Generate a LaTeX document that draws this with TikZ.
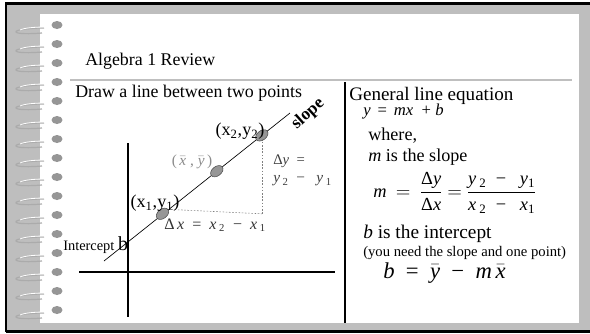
\documentclass[tikz,border=0pt]{standalone}
\usepackage{fontspec}
\setmainfont{Liberation Serif}
\usepackage{amsmath}
\usetikzlibrary{shapes.geometric}
\definecolor{pagegray}{RGB}{190,190,190}
\definecolor{ringgray}{RGB}{150,150,150}
\definecolor{notegray}{RGB}{110,110,110}
\newcommand{\ivar}[1]{\textit{#1}}
\newcommand{\barvar}[1]{$\bar{\hbox{\itshape #1}}$}
\tikzset{
  ptdot/.style={ellipse, draw=black!70, fill=ringgray, minimum width=10.5pt, minimum height=7pt, inner sep=0pt, rotate=38},
  plain/.style={inner sep=0.75pt},
  guide/.style={draw=gray, dash pattern={on 1.2pt off 1.2pt}, line width=0.4pt},
}
\begin{document}
\begin{tikzpicture}[x=0.75pt,y=0.75pt,yscale=-1,xscale=1]
\useasboundingbox (0,0) rectangle (590,333);

%Shape: page frame
\fill [pagegray] (6,4) rectangle (590,331);
\fill [white] (40,14) rectangle (579,323);
\draw [line width=1.6pt] (6,331.5) -- (6,3.5) -- (590,3.5);
\draw [line width=2pt] (6,331.8) -- (590,331.8);

%Shape: spiral rings
\foreach \y in {25,44,...,310} {
  \draw [ringgray!80, line width=0.9pt] (44,\y+3) .. controls (28,\y+3) and (15,\y+5) .. (16,\y+7) .. controls (17,\y+9) and (30,\y+9) .. (42,\y+8);
  \draw [white, line width=0.6pt] (46,\y+2) .. controls (34,\y+2) and (24,\y+3) .. (20,\y+5);
  \fill [ringgray] (57,\y) ellipse (5.5 and 4);
}

%Shape: rules
\draw [black!25, line width=0.8pt] (70,80) -- (572,80);
\draw [line width=0.9pt] (345,82) -- (345,323);

% Text Node
\node (title) [plain, anchor=base west, font=\fontsize{13.4}{16}\selectfont] at (84,65) {Algebra 1 Review};
% Text Node
\node (drawtxt) [plain, anchor=base west, font=\fontsize{13.4}{16}\selectfont] at (74,97) {Draw a line between two points};

%Shape: axes
\coordinate (yaxtop) at (128,143);
\coordinate (yaxbot) at (128,317);
\coordinate (xaxl) at (79,272);
\coordinate (xaxr) at (335,272);
\draw [line width=0.8pt] (yaxtop) -- (yaxbot);
\draw [line width=0.8pt] (xaxl) -- (xaxr);

%Shape: fitted line and points
\coordinate (lnA) at (104,261);
\coordinate (lnB) at (290,113);
\draw [line width=0.5pt] (lnA) -- (lnB);
\node (p1) [ptdot] at (162.5,213.8) {};
\node (pm) [ptdot] at (216.8,171.2) {};
\node (p2) [ptdot] at (261.8,135.4) {};
\coordinate (corner) at (p2 |- p1);
\draw [guide] (p2.center) -- (corner);
\draw [guide] (p1.east) -- (corner);

% Text Node
\node (lblp2) [plain, font=\fontsize{13.6}{16}\selectfont] at (240,131) {(x\textsubscript{2},y\textsubscript{2})};
% Text Node
\node (lblp1) [plain, font=\fontsize{13.6}{16}\selectfont] at (155,203) {(x\textsubscript{1},y\textsubscript{1})};
% Text Node
\node (lblpm) [plain, text=notegray!80, font=\fontsize{11.5}{13}\selectfont] at (192,162) {(\,\barvar{x}\ ,\ \barvar{y}\,)};
% Text Node
\node (lbldy) [plain, anchor=west, text=black!75, font=\fontsize{11}{13}\selectfont] at (272,161) {Δ\ivar{y}\ \ =};
% Text Node
\node (lbldy2) [plain, anchor=west, text=black!75, font=\fontsize{11.5}{13}\selectfont] at (272,181) {\ivar{y}\,\textsubscript{2}\ \ −\ \ \ \ivar{y}\,\textsubscript{1}};
% Text Node
\node (lbldx) [plain, anchor=west, text=black!80, font=\fontsize{12}{14}\selectfont] at (163,225) {Δ\,\ivar{x}\ \ =\ \ \ivar{x}\,\textsubscript{2}\ \ −\ \ \ivar{x}\,\textsubscript{1}};
% Text Node
\node (lblint) [plain, anchor=base west, font=\fontsize{10.8}{13}\selectfont] at (62,250) {Intercept \fontsize{15}{17}\selectfont b};
% Text Node
\node (lblslope) [plain, rotate=42, font=\bfseries\fontsize{13}{15}\selectfont] at (308,114) {slope};

% Text Node
\node (gentxt) [plain, anchor=base west, font=\fontsize{14.3}{16}\selectfont] at (348,100) {General line equation};
% Text Node
\node (eqline) [plain, anchor=base west, font=\fontsize{12.5}{15}\selectfont] at (362,115) {\ivar{y}\, = \,\ivar{mx}\ \ + \ivar{b}};
% Text Node
\node (wheretxt) [plain, anchor=base west, font=\fontsize{13.6}{16}\selectfont] at (367,140) {where,};
% Text Node
\node (mtxt) [plain, anchor=base west, font=\fontsize{13.6}{16}\selectfont] at (367,161.5) {\ivar{m} is the slope};
% Text Node
\node (meq) [plain, anchor=west, font=\fontsize{13.8}{16}\selectfont] at (372,193) {\ivar{m}\ \ $=$\ \ $\dfrac{\text{Δ\ivar{y}}}{\text{Δ\ivar{x}}}$\ $=$\ $\dfrac{\text{\ivar{y}\,\textsubscript{2}\ \ −\ \ \ \ivar{y}\textsubscript{1}}}{\text{\ivar{x}\,\textsubscript{2}\ \ −\ \ \ \ivar{x}\textsubscript{1}}}$};
% Text Node
\node (btxt) [plain, anchor=base west, font=\fontsize{14.5}{16}\selectfont] at (362,238) {\ivar{b} is the intercept};
% Text Node
\node (notetxt) [plain, anchor=base west, font=\fontsize{11}{13}\selectfont] at (362,256.5) {(you need the slope and one point)};
% Text Node
\node (beq) [plain, anchor=base west, font=\fontsize{17}{19}\selectfont] at (382,278) {\ivar{b}\ \ =\ \ \barvar{y}\ \ −\ \ \ivar{m}\,\barvar{x}};

\end{tikzpicture}
\end{document}
